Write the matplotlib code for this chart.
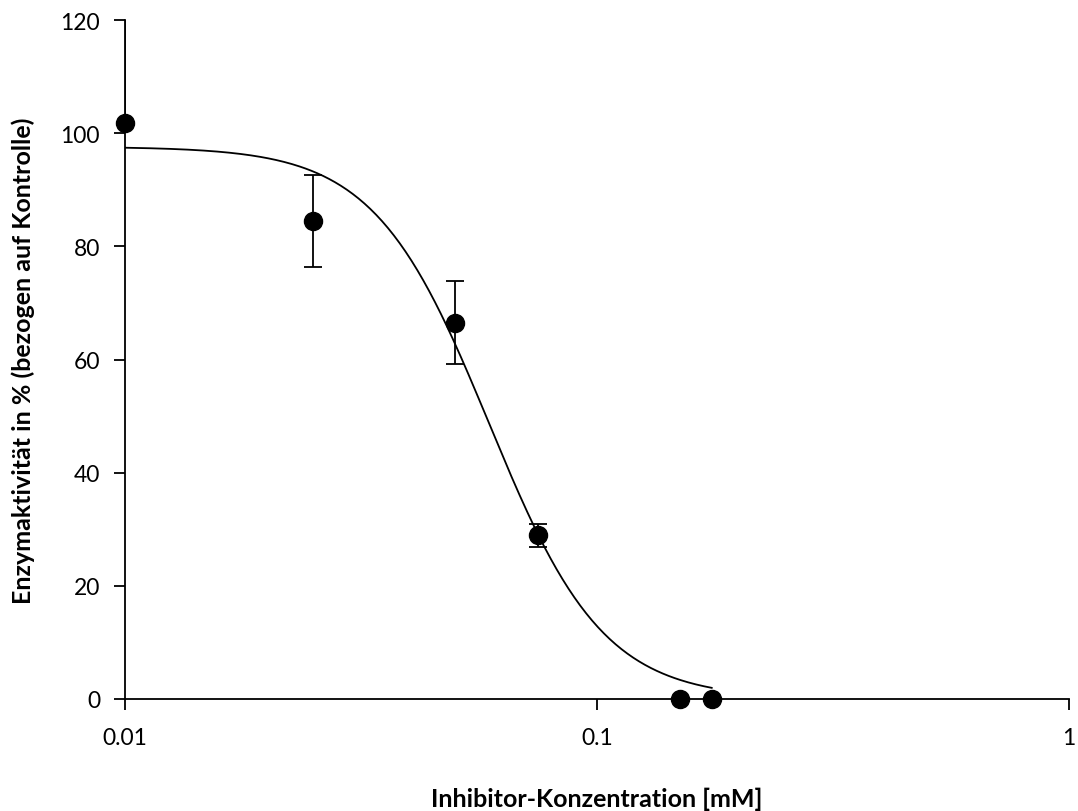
import numpy as np
import matplotlib
matplotlib.use("Agg")
import matplotlib.pyplot as plt
from matplotlib.ticker import FixedLocator, FixedFormatter, NullLocator

plt.rcParams['font.family'] = ['Lato', 'DejaVu Sans']

# Data
concentration = [0.01, 0.025, 0.05, 0.075, 0.15, 0.175]
activity = [101.8, 84.5, 66.5, 28.9, 0.0, 0.0]
activity_err_low = [0.0, 8.1, 7.3, 2.1, 0.0, 0.0]
activity_err_high = [25.0, 8.1, 7.3, 2.1, 0.0, 0.0]

# Fitted 4-parameter logistic (dose-response) curve parameters
fit_top = 97.6
fit_bottom = 0.0
fit_ic50 = 0.059
fit_hill = 3.57
fit_range = (0.01, 0.175)

x_ticks = [0.01, 0.1, 1]
x_ticklabels = ['0.01', '0.1', '1']
y_ticks = [0, 20, 40, 60, 80, 100, 120]

fig = plt.figure(figsize=(10.78, 8.12), dpi=100)
ax = fig.add_axes([125/1078, 1 - 700/812, (1069-125)/1078, (700-21)/812])

xc = np.logspace(np.log10(fit_range[0]), np.log10(fit_range[1]), 300)
yc = fit_bottom + (fit_top - fit_bottom) / (1 + (xc / fit_ic50) ** fit_hill)
ax.plot(xc, yc, color='black', lw=1.3, zorder=2)

# error bars (clipped to the axes)
ax.errorbar(concentration, activity, yerr=[activity_err_low, activity_err_high], fmt='none',
            ecolor='black', elinewidth=1.3, capsize=6.5, capthick=1.3, zorder=3)
# markers (not clipped)
ax.plot(concentration, activity, 'o', color='black', ms=13, zorder=4, clip_on=False)

ax.set_xscale('log')
ax.set_xlim(0.01, 1)
ax.set_ylim(0, 120)
ax.xaxis.set_major_locator(FixedLocator(x_ticks))
ax.xaxis.set_major_formatter(FixedFormatter(x_ticklabels))
ax.xaxis.set_minor_locator(NullLocator())
ax.set_yticks(y_ticks)

for s in ['top', 'right']:
    ax.spines[s].set_visible(False)
for s in ['left', 'bottom']:
    ax.spines[s].set_linewidth(1.3)
ax.tick_params(axis='both', direction='out', length=8, width=1.3, labelsize=16.5)
ax.tick_params(axis='y', pad=10)
ax.tick_params(axis='x', pad=12)

ax.set_xlabel('Inhibitor-Konzentration [mM]', fontsize=18, fontweight='bold', labelpad=28)
ax.set_ylabel('Enzymaktivität in % (bezogen auf Kontrolle)', fontsize=18, fontweight='bold', labelpad=18)

fig.savefig('out.png', dpi=100)
